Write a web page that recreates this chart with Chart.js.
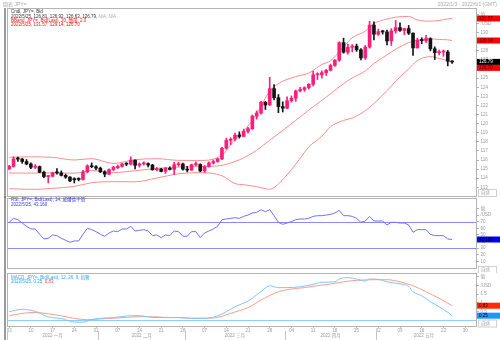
<!DOCTYPE html>
<html>
<head>
<meta charset="utf-8">
<script src="https://cdn.jsdelivr.net/npm/chart.js@4.4.1/dist/chart.umd.min.js"></script>
<style>
  body { margin: 0; background: #fff; }
  #box { position: relative; width: 500px; height: 340px; overflow: hidden; }
  #box canvas { position: absolute; left: 0; }
</style>
</head>
<body>
<div id="box">
  <canvas id="priceChart" width="500" height="198" style="top:0"></canvas>
  <canvas id="rsiChart" width="500" height="77" style="top:196px"></canvas>
  <canvas id="macdChart" width="500" height="67" style="top:273px"></canvas>
</div>
<script>
const FONT = '"Liberation Sans", "Noto Sans CJK TC", sans-serif';

// weekday slots 2022-01-03 .. 2022-06-01
const days = [];
for (let d = new Date(Date.UTC(2022, 0, 3)); d <= new Date(Date.UTC(2022, 5, 1)); d.setUTCDate(d.getUTCDate() + 1)) {
    const wd = d.getUTCDay();
    if (wd === 0 || wd === 6) continue;
    days.push(d.toISOString().slice(0, 10));
}
const monthNames = ['2022 一月', '2022 二月', '2022 三月', '2022 四月', '2022 五月'];

// JPY= daily candles
const opens = [115.02, 115.30, 116.12, 116.10, 115.83, 115.56, 115.20, 115.28, 114.65, 114.18,
    114.21, 114.60, 114.58, 114.31, 114.12, 113.95, 113.90, 113.86, 114.68, 115.35,
    115.26, 115.10, 114.70, 114.44, 114.95, 115.15, 115.30, 115.56, 115.54, 115.98,
    115.42, 115.57, 115.60, 115.45, 114.92, 115.00, 114.74, 115.08, 114.96, 115.48,
    115.57, 114.99, 114.89, 115.49, 115.51, 114.80, 115.29, 115.67, 115.83, 116.12,
    117.30, 118.16, 118.30, 118.74, 118.59, 119.15, 119.45, 120.83, 121.17, 122.35,
    122.05, 123.85, 122.85, 121.88, 121.70, 122.52, 122.80, 123.60, 123.75, 123.96,
    124.33, 125.38, 125.38, 125.60, 125.86, 126.40, 126.98, 128.91, 127.86, 128.40,
    128.52, 128.13, 127.23, 128.42, 130.84, 129.84, 130.12, 130.09, 129.09, 130.20,
    130.56, 130.25, 130.45, 129.95, 128.33, 129.20, 129.13, 129.36, 128.23, 127.80,
    127.88, 127.88, 126.81];
const highs = [115.42, 116.35, 116.33, 116.18, 116.05, 115.68, 115.50, 115.34, 114.78, 114.30,
    114.66, 115.06, 114.80, 114.45, 114.18, 114.05, 114.05, 114.85, 115.48, 115.68,
    115.38, 115.22, 114.82, 115.02, 115.32, 115.45, 115.62, 115.70, 116.35, 116.02,
    115.68, 115.80, 115.70, 115.52, 115.18, 115.08, 115.20, 115.24, 115.75, 115.77,
    115.67, 115.30, 115.55, 115.80, 115.58, 115.40, 115.80, 116.00, 116.20, 117.40,
    118.40, 118.45, 118.95, 119.10, 119.40, 119.60, 120.95, 121.40, 122.45, 122.45,
    125.09, 124.30, 123.20, 122.40, 122.95, 123.05, 123.70, 124.00, 124.05, 124.40,
    125.75, 125.60, 125.80, 125.95, 126.55, 127.05, 129.00, 129.40, 128.75, 128.70,
    128.75, 128.25, 128.60, 131.25, 131.20, 130.40, 130.25, 130.30, 130.45, 131.35,
    131.10, 130.50, 130.80, 130.00, 129.40, 129.45, 129.70, 129.45, 128.45, 128.10,
    128.10, 128.05, 126.92];
const lows = [114.95, 115.20, 115.85, 115.63, 115.47, 115.05, 115.05, 114.60, 114.05, 113.48,
    114.15, 114.45, 114.24, 113.98, 113.62, 113.47, 113.70, 113.78, 114.58, 115.15,
    114.95, 114.62, 114.15, 114.38, 114.82, 115.05, 115.22, 115.38, 115.45, 115.02,
    115.22, 115.45, 115.25, 114.88, 114.80, 114.70, 114.52, 114.90, 114.40, 115.30,
    114.88, 114.70, 114.85, 115.38, 114.70, 114.65, 115.20, 115.55, 115.75, 116.05,
    117.20, 117.70, 118.10, 118.40, 118.55, 118.95, 119.35, 120.50, 121.05, 121.55,
    122.00, 122.60, 121.20, 121.28, 121.65, 122.35, 122.45, 123.50, 123.55, 123.80,
    124.15, 124.85, 125.00, 125.30, 125.80, 126.30, 126.85, 127.75, 127.65, 127.90,
    127.95, 127.00, 127.05, 128.30, 129.20, 129.70, 129.85, 128.65, 128.60, 129.95,
    130.15, 129.80, 129.80, 127.50, 128.30, 128.80, 128.90, 128.00, 127.05, 127.55,
    127.40, 126.35, 126.63];
const closes = [115.30, 116.12, 116.10, 115.83, 115.56, 115.20, 115.28, 114.65, 114.18, 114.21,
    114.60, 114.58, 114.31, 114.12, 113.70, 113.82, 113.86, 114.68, 115.35, 115.26,
    115.10, 114.70, 114.44, 114.95, 115.22, 115.30, 115.56, 115.54, 115.98, 115.42,
    115.57, 115.60, 115.45, 114.92, 115.00, 114.74, 115.08, 114.96, 115.48, 115.57,
    114.99, 114.89, 115.49, 115.51, 114.80, 115.29, 115.67, 115.83, 116.12, 117.30,
    118.16, 118.30, 118.74, 118.59, 119.15, 119.45, 120.83, 121.17, 122.35, 122.05,
    123.85, 122.85, 121.88, 121.70, 122.52, 122.80, 123.60, 123.75, 123.96, 124.33,
    125.38, 125.38, 125.60, 125.86, 126.40, 126.98, 128.91, 127.86, 128.40, 128.52,
    128.13, 127.23, 128.42, 130.84, 129.84, 130.12, 130.09, 129.09, 130.20, 130.56,
    130.25, 130.45, 129.95, 128.33, 129.20, 129.13, 129.36, 128.23, 127.80, 127.88,
    127.88, 126.86, 126.79];

// Bollinger band (20, 2.0) read at these slots
const bbIdx = [0, 5, 10, 15, 19, 24, 29, 34, 39, 44, 49, 52, 54, 57, 60, 62, 66, 69, 72, 74,
    77, 79, 82, 84, 87, 89, 92, 94, 97, 99, 101, 102];
const bbUpper = [116.30, 116.35, 116.29, 116.00, 116.15, 115.62, 116.04, 116.14, 115.96, 115.95,
    116.55, 118.27, 119.18, 121.07, 123.58, 124.41, 125.18, 125.56, 126.51, 126.91,
    128.44, 129.44, 130.17, 131.01, 131.51, 131.71, 131.79, 131.41, 131.27, 131.35, 131.52, 131.57];
const bbMid = [114.57, 114.56, 114.58, 114.55, 114.84, 114.62, 114.82, 115.08, 115.22, 115.28,
    115.41, 115.84, 116.23, 117.07, 118.18, 118.89, 120.36, 121.50, 122.56, 123.29,
    124.40, 125.03, 125.79, 126.61, 127.57, 128.19, 128.91, 129.17, 129.32, 129.26, 129.22, 129.14];
const bbLower = [112.85, 112.77, 112.88, 113.10, 113.50, 113.62, 113.60, 114.02, 114.48, 114.61,
    114.27, 113.41, 113.28, 113.07, 112.78, 113.37, 115.54, 117.44, 118.61, 119.67,
    120.36, 120.62, 121.41, 122.21, 123.63, 124.67, 126.03, 126.93, 127.37, 127.17, 126.92, 126.70];

// RSI 14
const rsiVals = [69, 75, 73, 68, 63, 59, 59, 51, 44, 45, 50, 49, 45, 42, 39, 41, 41, 51, 60, 58,
    55, 51, 48, 53, 56, 55, 59, 59, 63, 56, 57, 58, 56, 49, 50, 46, 50, 49, 56, 55,
    48, 48, 55, 55, 46, 53, 56, 59, 63, 73, 74, 75, 76, 75, 78, 80, 83, 84, 88, 85,
    88, 79, 69, 66, 68, 70, 73, 74, 74, 75, 78, 79, 79, 80, 81, 83, 87, 79, 79, 78,
    75, 69, 71, 78, 71, 71, 71, 65, 69, 69, 68, 68, 65, 54, 58, 58, 58, 51, 49, 49,
    49, 44, 43.16];
const rsiLevels = [70, 30];

// MACD 12/26/9
const macdIdx = [0, 3, 6, 9, 12, 15, 17, 19, 21, 24, 27, 30, 33, 36, 39, 42, 45, 48, 50, 52,
    55, 58, 60, 62, 64, 67, 70, 72, 75, 76, 78, 80, 82, 83, 85, 87, 90, 92, 93, 95, 97, 100, 102];
const macdVals = [0.48, 0.62, 0.50, 0.18, 0.08, -0.12, -0.13, 0.02, 0.10, 0.14, 0.23, 0.25, 0.15, 0.14,
    0.14, 0.10, 0.10, 0.24, 0.48, 0.77, 1.10, 1.65, 1.99, 1.88, 1.88, 1.93, 2.07, 2.19, 2.22, 2.38,
    2.46, 2.38, 2.26, 2.38, 2.36, 2.22, 2.10, 1.95, 1.64, 1.41, 1.06, 0.62, 0.25];
const signalIdx = [0, 3, 6, 9, 12, 15, 18, 21, 24, 27, 30, 33, 36, 39, 42, 45, 48, 51, 55, 58,
    62, 65, 68, 71, 74, 77, 80, 84, 87, 90, 93, 96, 99, 102];
const signalVals = [0.25, 0.38, 0.44, 0.36, 0.24, 0.09, 0.02, 0.06, 0.10, 0.15, 0.19, 0.19, 0.15, 0.14,
    0.10, 0.10, 0.15, 0.39, 0.72, 1.16, 1.64, 1.80, 1.88, 1.99, 2.09, 2.22, 2.30, 2.34, 2.34, 2.22,
    1.99, 1.64, 1.26, 0.83];

// right axis ticks
const priceTicks = [113, 114, 115, 116, 117, 118, 119, 120, 121, 122, 123, 124, 125, 126, 127, 128, 129, 130, 131, 132];
const rsiTicks = [10, 20, 30, 40, 50, 60, 70, 80, 90];
const macdTicks = [0.5, 1, 1.5, 2, 2.5];

const UP = '#ff1f7a';
const DOWN = '#141414';
const BAND = '#ff8c8c';
const RSI_LINE = '#7070ff';
const MACD_LINE = '#7cc6ff';
const SIGNAL_LINE = '#ff9c88';
const GRID = '#b4b4b4';
const TEXT = '#9a9a9a';

const pts = (idx, vals) => idx.map((i, k) => ({ x: days[i], y: vals[k] }));
const last = arr => arr[arr.length - 1];
const candleColors = closes.map((c, i) => c >= opens[i] ? UP : DOWN);

const rightAxis = (min, max, ticks, unitLabels) => ({
    position: 'right', min: min, max: max,
    afterBuildTicks: s => { s.ticks = ticks.map(v => ({ value: v })); },
    afterFit: s => { s.width = 24; s.paddingTop = 0; s.paddingBottom = 0; },
    grid: { drawOnChartArea: false, tickLength: 3, color: GRID },
    border: { display: false },
    ticks: {
        autoSkip: false, padding: 1.5, color: TEXT, font: { family: FONT, size: 4.5 },
        callback: v => unitLabels[v] || String(v)
    }
});

const hiddenX = { type: 'category', labels: days, offset: true, display: false };

// frame, legend text, value boxes and level lines for one pane
const paneDecor = {
    id: 'paneDecor',
    beforeDatasetsDraw(chart, args, o) {
        const { ctx, chartArea: a } = chart;
        const y = chart.scales.y;
        ctx.save();
        (o.levels || []).forEach(l => {
            const py = Math.round(y.getPixelForValue(l.value)) + 0.5;
            ctx.strokeStyle = l.color;
            ctx.lineWidth = 1;
            ctx.beginPath();
            ctx.moveTo(a.left, py);
            ctx.lineTo(a.right, py);
            ctx.stroke();
        });
        ctx.restore();
    },
    afterDraw(chart, args, o) {
        const { ctx, chartArea: a } = chart;
        const y = chart.scales.y;
        ctx.save();
        ctx.strokeStyle = GRID;
        ctx.lineWidth = 1;
        ctx.strokeRect(a.left + 0.5, a.top + 0.5, a.right - a.left, a.bottom - a.top);
        ctx.strokeStyle = '#7a7a7a';
        ctx.lineWidth = 1.5;
        ctx.beginPath();
        ctx.moveTo(5, o.outerTop || 0);
        ctx.lineTo(5, chart.height);
        ctx.stroke();

        ctx.textBaseline = 'middle';
        ctx.font = '4.5px ' + FONT;
        (o.legend || []).forEach((line, n) => {
            let x = a.left + 4;
            const ly = a.top + o.legendTop + n * o.legendStep;
            line.forEach(([txt, col]) => {
                ctx.fillStyle = col;
                ctx.fillText(txt, x, ly);
                x += ctx.measureText(txt).width;
            });
        });

        let lastBottom = -Infinity;
        (o.boxes || []).forEach(b => {
            let top = y.getPixelForValue(b.value) - 3;
            if (top < lastBottom) top = lastBottom;
            ctx.fillStyle = b.bg;
            ctx.fillRect(a.right + 1, top, chart.width - a.right - 1, 6);
            ctx.fillStyle = b.fg;
            ctx.fillText(b.text, a.right + 3, top + 3.2);
            lastBottom = top + 6;
        });

        if (o.autoY !== undefined) {
            const ay = a.bottom + o.autoY;
            ctx.strokeStyle = '#d0d0d0';
            ctx.lineWidth = 1;
            ctx.strokeRect(a.right + 2.5, ay - 3.5, 18, 7);
            ctx.fillStyle = TEXT;
            ctx.fillText('自适', a.right + 5, ay);
        }
        ctx.restore();
    }
};

// page header above the price pane
const headerText = {
    id: 'headerText',
    afterDraw(chart) {
        const ctx = chart.ctx;
        ctx.save();
        ctx.font = '5px ' + FONT;
        ctx.fillStyle = '#a8a8a8';
        ctx.textBaseline = 'middle';
        ctx.fillText('圖表 JPY=', 3, 4.5);
        ctx.textAlign = 'right';
        ctx.fillText('2022/1/3 - 2022/6/1 (GMT)', 497, 4.5);
        ctx.restore();
    }
};

// month names and separators under the day ticks
const monthRow = {
    id: 'monthRow',
    afterDraw(chart) {
        const { ctx, chartArea: a } = chart;
        const x = chart.scales.x;
        const step = (a.right - a.left) / days.length;
        ctx.save();
        ctx.font = '4.5px ' + FONT;
        ctx.fillStyle = TEXT;
        ctx.textAlign = 'center';
        ctx.textBaseline = 'middle';
        ctx.strokeStyle = '#c4c4c4';
        ctx.lineWidth = 1;
        monthNames.forEach((name, m) => {
            const idx = days.map((d, i) => i).filter(i => Number(days[i].slice(5, 7)) === m + 1);
            const first = idx[0], lastIdx = idx[idx.length - 1];
            const left = Math.round(x.getPixelForValue(first) - step / 2) + 0.5;
            ctx.beginPath();
            ctx.moveTo(left, a.bottom + 5);
            ctx.lineTo(left, chart.height);
            ctx.stroke();
            ctx.fillText(name, (x.getPixelForValue(first) + x.getPixelForValue(lastIdx)) / 2, a.bottom + 10);
        });
        ctx.restore();
    }
};

const baseOptions = {
    responsive: false,
    animation: false,
    events: [],
    plugins: { legend: { display: false }, tooltip: { enabled: false } }
};

const n = closes.length - 1;

new Chart(document.getElementById('priceChart'), {
    type: 'bar',
    data: {
        labels: days,
        datasets: [
            { type: 'line', data: pts(bbIdx, bbUpper), borderColor: BAND, borderWidth: 1, pointRadius: 0, cubicInterpolationMode: 'monotone', order: 3 },
            { type: 'line', data: pts(bbIdx, bbMid), borderColor: BAND, borderWidth: 1, pointRadius: 0, cubicInterpolationMode: 'monotone', order: 3 },
            { type: 'line', data: pts(bbIdx, bbLower), borderColor: BAND, borderWidth: 1, pointRadius: 0, cubicInterpolationMode: 'monotone', order: 3 },
            { data: lows.map((l, i) => [l, highs[i]]), backgroundColor: candleColors, barThickness: 1, grouped: false, order: 2 },
            { data: opens.map((o, i) => [o, closes[i]]), backgroundColor: candleColors, barThickness: 3, minBarLength: 1, grouped: false, order: 1 }
        ]
    },
    options: {
        ...baseOptions,
        layout: { padding: { left: 7, top: 8, right: 0, bottom: 2 } },
        scales: {
            x: hiddenX,
            y: rightAxis(112.04, 132.72, priceTicks, { 131: '/USD', 132: '值' })
        },
        plugins: {
            ...baseOptions.plugins,
            paneDecor: {
                outerTop: 8,
                legendTop: 4, legendStep: 4.4,
                legend: [
                    [['Cndl, JPY=, Bid', '#333']],
                    [['2022/5/25, ' + [opens[n], highs[n], lows[n], closes[n]].map(v => v.toFixed(2)).join(', ') + ', ', '#333'], ['N/A, N/A', '#aaa']],
                    [['BBand, JPY=, Bid(Last), 20, 簡單, 2.0', '#f01010']],
                    [['2022/5/25, ' + [last(bbUpper), last(bbMid), last(bbLower)].map(v => v.toFixed(2)).join(', '), '#f01010']]
                ],
                boxes: [
                    { value: last(bbUpper), bg: '#ff0000', fg: '#300', text: last(bbUpper).toFixed(2) },
                    { value: last(bbMid), bg: '#ff0000', fg: '#300', text: last(bbMid).toFixed(2) },
                    { value: closes[n], bg: '#000', fg: '#fff', text: closes[n].toFixed(2) },
                    { value: last(bbLower), bg: '#ff0000', fg: '#300', text: last(bbLower).toFixed(2) }
                ],
                autoY: -3
            }
        }
    },
    plugins: [paneDecor, headerText]
});

new Chart(document.getElementById('rsiChart'), {
    type: 'line',
    data: {
        labels: days,
        datasets: [
            { data: rsiVals, borderColor: RSI_LINE, borderWidth: 1, pointRadius: 0, tension: 0 }
        ]
    },
    options: {
        ...baseOptions,
        layout: { padding: { left: 7, top: 2, right: 0, bottom: 5 } },
        scales: {
            x: hiddenX,
            y: rightAxis(0.3, 105.6, rsiTicks, { 80: '/USD', 90: '值' })
        },
        plugins: {
            ...baseOptions.plugins,
            paneDecor: {
                legendTop: 2, legendStep: 5,
                legend: [
                    [['RSI, JPY=, Bid(Last), 14, 威爾德平滑', '#3838f0']],
                    [['2022/5/25, ' + last(rsiVals).toFixed(3), '#3838f0']]
                ],
                levels: rsiLevels.map(v => ({ value: v, color: '#8a8aff' })),
                boxes: [
                    { value: last(rsiVals), bg: '#0000ff', fg: '#001', text: last(rsiVals).toFixed(3) }
                ],
                autoY: 2
            }
        }
    },
    plugins: [paneDecor]
});

new Chart(document.getElementById('macdChart'), {
    type: 'line',
    data: {
        labels: days,
        datasets: [
            { data: pts(macdIdx, macdVals), borderColor: MACD_LINE, borderWidth: 1, pointRadius: 0, cubicInterpolationMode: 'monotone' },
            { data: pts(signalIdx, signalVals), borderColor: SIGNAL_LINE, borderWidth: 1, pointRadius: 0, cubicInterpolationMode: 'monotone' }
        ]
    },
    options: {
        ...baseOptions,
        layout: { padding: { left: 7, top: 0, right: 0, bottom: 0 } },
        scales: {
            x: {
                type: 'category', labels: days, offset: true,
                afterFit: s => { s.height = 14; s.paddingLeft = 0; s.paddingRight = 0; },
                grid: {
                    offset: false, drawOnChartArea: false, tickLength: 2,
                    color: c => new Date(days[c.index]).getUTCDay() === 1 ? '#c4c4c4' : 'rgba(0,0,0,0)'
                },
                border: { display: false },
                ticks: {
                    autoSkip: false, maxRotation: 0, minRotation: 0, padding: 0, color: TEXT,
                    font: { family: FONT, size: 4.5 },
                    callback: (v, i) => new Date(days[i]).getUTCDay() === 1 ? days[i].slice(8) : ''
                }
            },
            y: rightAxis(-0.35, 2.73, macdTicks, { 2: '/USD', 2.5: '值' })
        },
        plugins: {
            ...baseOptions.plugins,
            paneDecor: {
                legendTop: 4.3, legendStep: 4.4,
                legend: [
                    [['MACD, JPY=, Bid(Last), 12, 26, 9, 指數', '#3aa0f0']],
                    [['2022/5/25, ' + last(macdVals).toFixed(2) + ', ', '#3aa0f0'], [last(signalVals).toFixed(2), '#ff4030']]
                ],
                levels: [{ value: 0, color: '#8ccfff' }],
                boxes: [
                    { value: last(signalVals), bg: '#ff2a00', fg: '#300', text: last(signalVals).toFixed(2) },
                    { value: last(macdVals), bg: '#1e96ff', fg: '#001', text: last(macdVals).toFixed(2) }
                ],
                autoY: -2.5
            }
        }
    },
    plugins: [paneDecor, monthRow]
});
</script>
</body>
</html>
